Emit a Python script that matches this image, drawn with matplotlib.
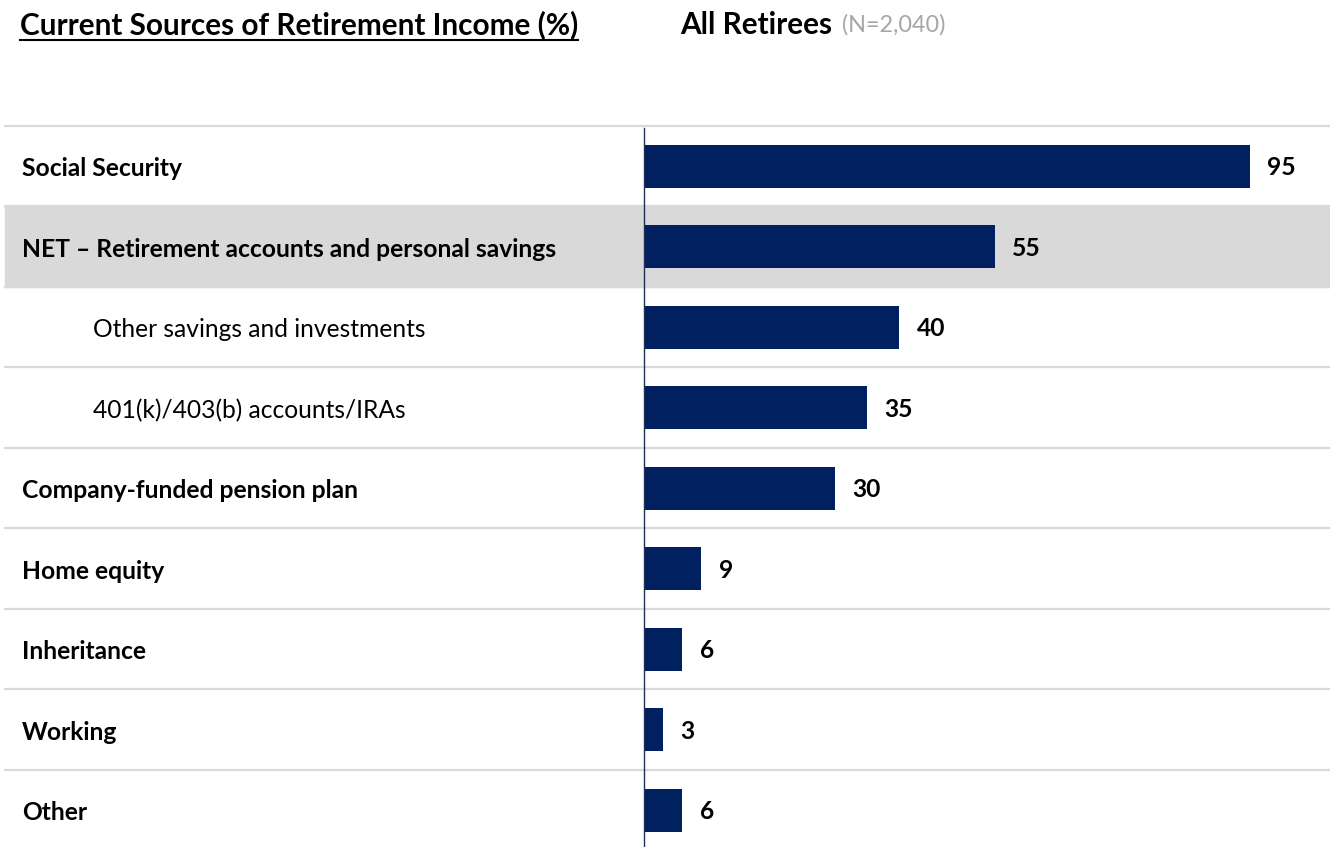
import matplotlib.pyplot as plt
from matplotlib.transforms import blended_transform_factory

plt.rcParams["font.family"] = ["Lato", "DejaVu Sans"]

# Dados
fontes = [
    "Social Security",
    "NET – Retirement accounts and personal savings",
    "Other savings and investments",
    "401(k)/403(b) accounts/IRAs",
    "Company-funded pension plan",
    "Home equity",
    "Inheritance",
    "Working",
    "Other",
]
valores = [95, 55, 40, 35, 30, 9, 6, 3, 6]
subitem = [False, False, True, True, False, False, False, False, False]
linha_destaque = 1

W, H = 1330, 847
fig = plt.figure(figsize=(W / 100, H / 100), dpi=100)
ax = fig.add_axes([644 / W, 0, 1 - 644 / W, (H - 126) / H])

altura_linha = 80.5
ax.set_ylim(-0.5 + (H - 126) / altura_linha, -0.5)
ax.set_xlim(0, (W - 644) / 6.38)
ax.axis("off")

trans = blended_transform_factory(fig.transFigure, ax.transData)

# faixa cinza da linha NET
fundo = plt.Rectangle((5 / W, linha_destaque - 0.5), 1, 1, transform=trans,
                      color="#d9d9d9", clip_on=False, zorder=0)
ax.add_patch(fundo)

# separadores
for k in range(len(fontes)):
    ax.plot([5 / W, 1], [k - 0.5, k - 0.5], transform=trans, color="#d9d9d9",
            lw=1.6, clip_on=False, zorder=1)

ax.plot([0, 0], [-0.47, 9], color="#1f2f5c", lw=1, zorder=3, clip_on=False)

ys = list(range(len(fontes)))
ax.barh(ys, valores, height=0.53, color="#002060", zorder=2)

tam = 17.7
for y, nome, v, sub in zip(ys, fontes, valores, subitem):
    if sub:
        ax.text(93 / W, y + 0.03, nome, transform=trans, fontsize=tam,
                va="center", ha="left", color="black")
    else:
        ax.text(22 / W, y + 0.03, nome, transform=trans, fontsize=tam,
                va="center", ha="left", color="black", fontweight="bold")
    ax.text(v + 2.7, y + 0.02, str(v), fontsize=tam, fontweight="bold",
            va="center", ha="left", color="black")

# cabeçalho
fig.text(20 / W, 1 - 25 / H, "Current Sources of Retirement Income (%)",
         fontsize=21.4, fontweight="bold", va="center", ha="left")
fig.add_artist(plt.Line2D([20 / W, 578 / W], [1 - 40 / H, 1 - 40 / H],
                          color="black", lw=1.5))
t = fig.text(680 / W, 1 - 25 / H, "All Retirees", fontsize=21.4,
             fontweight="bold", va="center", ha="left")
fig.canvas.draw()
fim = t.get_window_extent().x1
fig.text((fim + 10) / W, 1 - 25 / H, "(N=2,040)", fontsize=16.8,
         color="#a6a6a6", va="center", ha="left")

fig.savefig("out.png", dpi=100)
